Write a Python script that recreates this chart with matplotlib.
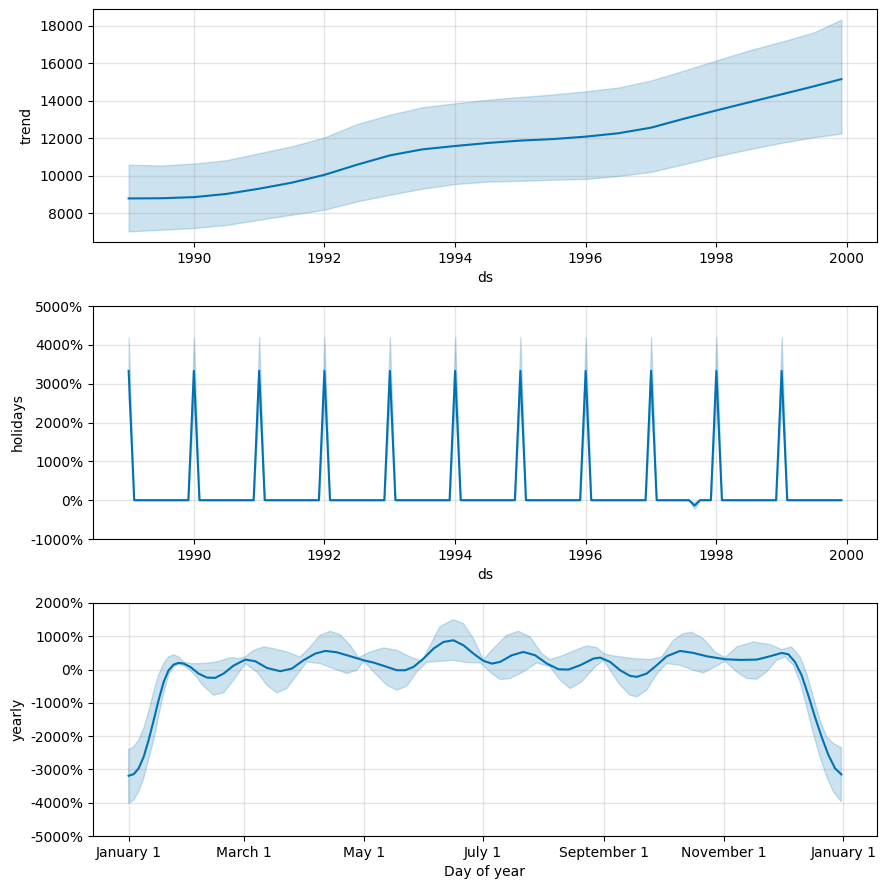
import numpy as np
import pandas as pd
import matplotlib
matplotlib.use("Agg")
from matplotlib import pyplot as plt
import matplotlib.dates as mdates
from matplotlib.ticker import FuncFormatter, FixedLocator, FixedFormatter

# trend component (every six months)
trend_dates = ['1989-01-01', '1989-07-01', '1990-01-01', '1990-07-01', '1991-01-01',
               '1991-07-01', '1992-01-01', '1992-07-01', '1993-01-01', '1993-07-01',
               '1994-01-01', '1994-07-01', '1995-01-01', '1995-07-01', '1996-01-01',
               '1996-07-01', '1997-01-01', '1997-07-01', '1998-01-01', '1998-07-01',
               '1999-01-01', '1999-07-01', '1999-12-01']
trend = [8780, 8790, 8850, 9020, 9300, 9620, 10040, 10580, 11080, 11400, 11580, 11740,
         11870, 11950, 12080, 12260, 12560, 13030, 13480, 13910, 14340, 14770, 15150]
trend_upper = [10580, 10540, 10640, 10820, 11200, 11560, 12040, 12750, 13250, 13650, 13860,
               14050, 14200, 14330, 14500, 14700, 15080, 15600, 16150, 16680, 17150, 17650, 18330]
trend_lower = [7020, 7110, 7200, 7360, 7640, 7910, 8180, 8620, 8980, 9300, 9550, 9680,
               9720, 9780, 9820, 9980, 10200, 10600, 11030, 11400, 11750, 12050, 12240]

# holidays component (%), monthly series, zero except on these months
holiday_start, holiday_end = '1989-01-01', '1999-12-01'
holiday_dates = ['1989-01-01', '1990-01-01', '1991-01-01', '1992-01-01', '1993-01-01',
                 '1994-01-01', '1995-01-01', '1996-01-01', '1997-01-01', '1997-09-01',
                 '1998-01-01', '1999-01-01']
holiday_vals = [3330, 3330, 3330, 3330, 3330, 3330, 3330, 3330, 3330, -140, 3330, 3330]
holiday_upper = [4200, 4200, 4200, 4200, 4200, 4200, 4200, 4200, 4200, -60, 4200, 4200]
holiday_lower = [2600, 2600, 2600, 2600, 2600, 2600, 2600, 2600, 2600, -220, 2600, 2600]

# yearly component (%), x = day of year from Jan 1
yearly_days = [0, 2.6, 5.1, 7.7, 10.2, 12.8, 15.3, 17.9, 20.4, 23.0,
               25.5, 28.1, 31.5, 35.7, 40.0, 44.2, 48.5, 53.6, 59.6, 64.7,
               70.6, 77.4, 83.4, 89.3, 95.3, 100.4, 106.3, 113.2, 120.0, 125.1,
               131.9, 137.0, 141.2, 145.5, 150.6, 155.7, 160.8, 165.9, 171.0, 176.1,
               181.2, 185.5, 189.7, 195.7, 201.6, 207.6, 213.6, 219.5, 224.6, 230.6,
               237.4, 240.8, 245.9, 251.0, 256.1, 259.5, 264.6, 269.7, 274.8, 281.6,
               288.4, 295.2, 304.6, 312.3, 320.8, 327.6, 333.5, 336.9, 340.3, 343.7,
               347.1, 350.5, 353.9, 357.4, 360.8, 364]
yearly = [-3190, -3140, -2970, -2620, -2120, -1520, -920, -370, -20, 150,
          200, 180, 80, -120, -240, -250, -120, 120, 300, 250,
          50, -50, 30, 280, 480, 560, 520, 400, 280, 210,
          80, -20, -20, 80, 330, 630, 830, 880, 730, 480,
          260, 180, 230, 430, 530, 430, 180, 10, 0, 130,
          330, 360, 230, -20, -190, -220, -120, 130, 400, 560,
          500, 400, 310, 290, 300, 400, 500, 460, 230, -170,
          -770, -1420, -2020, -2570, -2970, -3150]

upper_days = [0, 2.6, 5.1, 7.7, 10.2, 12.8, 15.3, 17.9, 20.4, 23.0,
              25.5, 28.1, 31.5, 36.6, 41.7, 46.8, 51.9, 56.2, 59.6, 63.8,
              68.9, 74.0, 80.8, 87.6, 92.7, 97.8, 102.9, 108.0, 113.2, 117.4,
              123.4, 130.2, 137.0, 143.8, 149.8, 154.9, 159.1, 165.9, 171.0, 176.1,
              181.2, 186.3, 193.1, 199.1, 205.1, 211.0, 215.3, 222.1, 228.9, 234.0,
              239.1, 243.0, 247.6, 257.8, 266.3, 272.3, 278.2, 283.3, 287.6, 293.5,
              299.5, 304.6, 310.6, 319.1, 327.6, 333.5, 338.6, 342.9, 346.3, 349.7,
              353.1, 356.5, 359.9, 364]
yearly_upper = [-2400, -2320, -2120, -1770, -1270, -670, -170, 180, 380, 450,
                380, 230, 180, 180, 200, 260, 360, 330, 380, 580,
                680, 630, 530, 380, 680, 1030, 1150, 1050, 730, 360,
                530, 650, 580, 380, 250, 830, 1300, 1500, 1380, 930,
                300, 630, 1030, 1150, 980, 480, 300, 430, 600, 710,
                660, 470, 410, 330, 300, 380, 880, 1080, 1120, 930,
                530, 360, 680, 830, 750, 600, 680, 380, -120, -820,
                -1520, -2020, -2220, -2350]

lower_days = [0, 2.6, 5.1, 7.7, 10.2, 12.8, 15.3, 17.9, 20.4, 23.0,
              25.5, 28.9, 33.2, 38.3, 43.4, 48.5, 53.6, 59.6, 65.5, 70.6,
              75.7, 80.8, 85.9, 91.0, 97.8, 104.6, 111.5, 116.6, 120.0, 125.1,
              131.9, 137.0, 142.1, 147.2, 152.3, 159.1, 165.9, 172.7, 179.5, 184.6,
              189.7, 194.8, 201.6, 208.5, 215.3, 220.4, 225.5, 231.4, 237.4, 242.5,
              245.9, 251.0, 256.1, 259.5, 264.6, 269.7, 274.8, 281.6, 288.4, 293.5,
              299.5, 304.6, 310.6, 315.7, 320.8, 325.9, 331.0, 335.2, 339.5, 342.9,
              346.3, 349.7, 353.1, 356.5, 359.9, 364]
yearly_lower = [-4020, -3920, -3670, -3270, -2720, -2120, -1420, -720, -170, 80,
                160, 100, -120, -500, -770, -700, -320, 180, -70, -470,
                -700, -570, -170, 230, 180, 30, -120, -20, 250, -70,
                -470, -620, -500, -70, 220, 250, 280, 210, 200, -70,
                -300, -270, -70, 200, 80, -320, -570, -370, 30, 280,
                -20, -470, -770, -820, -620, -140, 180, 130, -20, -100,
                80, 250, -70, -270, -290, -70, 280, 380, 130, -370,
                -1120, -1920, -2620, -3220, -3670, -3970]

blue = '#0072B2'
W, H = 886, 889
fig = plt.figure(figsize=(W / 100, H / 100), dpi=100)


def rect(top, bottom):
    return [93 / W, 1 - bottom / H, (877 - 93) / W, (bottom - top) / H]


def pct_ticks(ax, ticks):
    ax.yaxis.set_major_locator(FixedLocator(ticks))
    ax.yaxis.set_major_formatter(FixedFormatter(['{0:.4g}%'.format(t) for t in ticks]))
    ax.set_ylim(ticks[0], ticks[-1])


def grid(ax):
    ax.grid(True, which='major', c='gray', ls='-', lw=1, alpha=0.2)


# trend
ax1 = fig.add_axes(rect(9, 242))
td = pd.to_datetime(trend_dates)
ax1.plot(td, trend, ls='-', c=blue)
ax1.fill_between(td, trend_lower, trend_upper, color=blue, alpha=0.2)
ax1.xaxis.set_major_locator(mdates.YearLocator(2))
ax1.xaxis.set_major_formatter(mdates.DateFormatter('%Y'))
ax1.set_xlabel('ds')
ax1.set_ylabel('trend')
grid(ax1)

# holidays
ax2 = fig.add_axes(rect(306, 539))
months = pd.date_range(holiday_start, holiday_end, freq='MS')
hol = pd.Series(0.0, index=months)
hol_up = pd.Series(0.0, index=months)
hol_lo = pd.Series(0.0, index=months)
hd = pd.to_datetime(holiday_dates)
hol[hd] = holiday_vals
hol_up[hd] = holiday_upper
hol_lo[hd] = holiday_lower
ax2.plot(months, hol.values, ls='-', c=blue)
ax2.fill_between(months, hol_lo.values, hol_up.values, color=blue, alpha=0.2)
ax2.xaxis.set_major_locator(mdates.YearLocator(2))
ax2.xaxis.set_major_formatter(mdates.DateFormatter('%Y'))
pct_ticks(ax2, [-1000, 0, 1000, 2000, 3000, 4000, 5000])
ax2.set_xlabel('ds')
ax2.set_ylabel('holidays')
grid(ax2)

# yearly
ax3 = fig.add_axes(rect(603, 836))
base = pd.Timestamp('2017-01-01')
to_dates = lambda d: base + pd.to_timedelta(np.array(d), unit='D')
ud = mdates.date2num(to_dates(upper_days))
ld = mdates.date2num(to_dates(lower_days))
ax3.fill(np.concatenate([ud, ld[::-1]]),
         np.concatenate([yearly_upper, yearly_lower[::-1]]),
         color=blue, alpha=0.2, lw=1)
ax3.plot(to_dates(yearly_days), yearly, ls='-', c=blue)
ax3.xaxis_date()
ax3.set_xlim(mdates.date2num(base) - 18.2, mdates.date2num(base) + 364 + 18.2)
ax3.xaxis.set_major_locator(mdates.MonthLocator(range(1, 13), bymonthday=1, interval=2))
ax3.xaxis.set_major_formatter(FuncFormatter(
    lambda x, pos=None: '{dt:%B} {dt.day}'.format(dt=mdates.num2date(x))))
pct_ticks(ax3, [-5000, -4000, -3000, -2000, -1000, 0, 1000, 2000])
ax3.set_xlabel('Day of year')
ax3.set_ylabel('yearly')
grid(ax3)

fig.savefig('out.png', dpi=100)
